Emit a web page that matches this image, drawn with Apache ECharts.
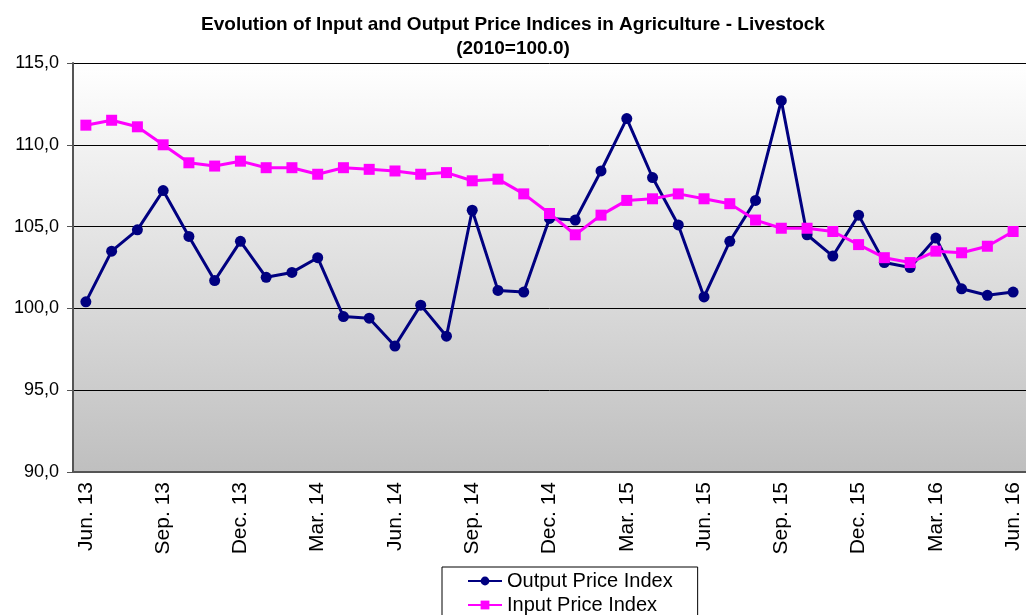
<!DOCTYPE html>
<html>
<head>
<meta charset="utf-8">
<title>Input and Output Price Indices - Livestock</title>
<script src="https://cdn.jsdelivr.net/npm/echarts@6/dist/echarts.min.js"></script>
<style>
  html, body { margin: 0; padding: 0; background: #fff; }
  #chart { width: 1026px; height: 615px; }
</style>
</head>
<body>
<div id="chart"></div>
<script>
// 月份 (Jun. 13 - Jun. 16)
const months = [
  'Jun. 13', 'Jul. 13', 'Aug. 13', 'Sep. 13', 'Oct. 13', 'Nov. 13', 'Dec. 13',
  'Jan. 14', 'Feb. 14', 'Mar. 14', 'Apr. 14', 'May. 14', 'Jun. 14',
  'Jul. 14', 'Aug. 14', 'Sep. 14', 'Oct. 14', 'Nov. 14', 'Dec. 14',
  'Jan. 15', 'Feb. 15', 'Mar. 15', 'Apr. 15', 'May. 15', 'Jun. 15',
  'Jul. 15', 'Aug. 15', 'Sep. 15', 'Oct. 15', 'Nov. 15', 'Dec. 15',
  'Jan. 16', 'Feb. 16', 'Mar. 16', 'Apr. 16', 'May. 16', 'Jun. 16'
]

const outputIndex = [
  100.4, 103.5, 104.8, 107.2, 104.4, 101.7, 104.1,
  101.9, 102.2, 103.1, 99.5, 99.4, 97.7,
  100.2, 98.3, 106.0, 101.1, 101.0, 105.5,
  105.4, 108.4, 111.6, 108.0, 105.1, 100.7,
  104.1, 106.6, 112.7, 104.5, 103.2, 105.7,
  102.8, 102.5, 104.3, 101.2, 100.8, 101.0
]

const inputIndex = [
  111.2, 111.5, 111.1, 110.0, 108.9, 108.7, 109.0,
  108.6, 108.6, 108.2, 108.6, 108.5, 108.4,
  108.2, 108.3, 107.8, 107.9, 107.0, 105.8,
  104.5, 105.7, 106.6, 106.7, 107.0, 106.7,
  106.4, 105.4, 104.9, 104.9, 104.7, 103.9,
  103.1, 102.8, 103.5, 103.4, 103.8, 104.7
]

const chart = echarts.init(document.getElementById('chart'))

const font = 'Liberation Sans, Arial, sans-serif'

const option = {
  animation: false,
  backgroundColor: '#ffffff',
  title: {
    text: 'Evolution of Input and Output Price Indices in Agriculture - Livestock\n(2010=100.0)',
    left: 'center',
    top: 8,
    textStyle: {
      fontFamily: font,
      fontSize: 19,
      fontWeight: 'bold',
      color: '#000',
      lineHeight: 24
    }
  },
  legend: {
    orient: 'vertical',
    left: 442,
    top: 567,
    height: 120,
    itemGap: 4,
    itemWidth: 34,
    itemHeight: 11,
    padding: [4, 25, 10, 25],
    borderColor: '#000',
    borderWidth: 1,
    borderRadius: 0,
    backgroundColor: '#fff',
    textStyle: {
      fontFamily: font,
      fontSize: 20,
      color: '#000'
    },
    data: ['Output Price Index', 'Input Price Index']
  },
  grid: {
    left: 73,
    top: 63,
    bottom: 143,
    right: -7,
    show: true,
    borderWidth: 0,
    backgroundColor: {
      type: 'linear', x: 0, y: 0, x2: 0, y2: 1,
      colorStops: [
        { offset: 0, color: '#ffffff' },
        { offset: 1, color: '#bfbfbf' }
      ]
    }
  },
  xAxis: {
    type: 'category',
    data: months,
    boundaryGap: true,
    axisLine: { lineStyle: { color: '#555', width: 2 } },
    axisTick: { interval: 0, length: 6, lineStyle: { color: '#555' } },
    axisLabel: {
      interval: 2,
      rotate: 90,
      margin: 10,
      fontFamily: font,
      fontSize: 21,
      color: '#000'
    }
  },
  yAxis: {
    type: 'value',
    min: 90,
    max: 115,
    interval: 5,
    axisLine: { show: true, lineStyle: { color: '#555', width: 2 } },
    axisTick: { show: true, length: 6, lineStyle: { color: '#555' } },
    axisLabel: {
      margin: 14,
      fontFamily: font,
      fontSize: 18,
      color: '#000',
      formatter: v => v.toFixed(1).replace('.', ',')
    },
    splitLine: { lineStyle: { color: '#000', width: 1 } }
  },
  series: [
    {
      name: 'Output Price Index',
      type: 'line',
      data: outputIndex,
      symbol: 'circle',
      symbolSize: 11,
      lineStyle: { color: '#000080', width: 3 },
      itemStyle: { color: '#000080' }
    },
    {
      name: 'Input Price Index',
      type: 'line',
      data: inputIndex,
      symbol: 'rect',
      symbolSize: 11,
      lineStyle: { color: '#ff00ff', width: 3 },
      itemStyle: { color: '#ff00ff' }
    }
  ]
}

chart.setOption(option)
</script>
</body>
</html>
